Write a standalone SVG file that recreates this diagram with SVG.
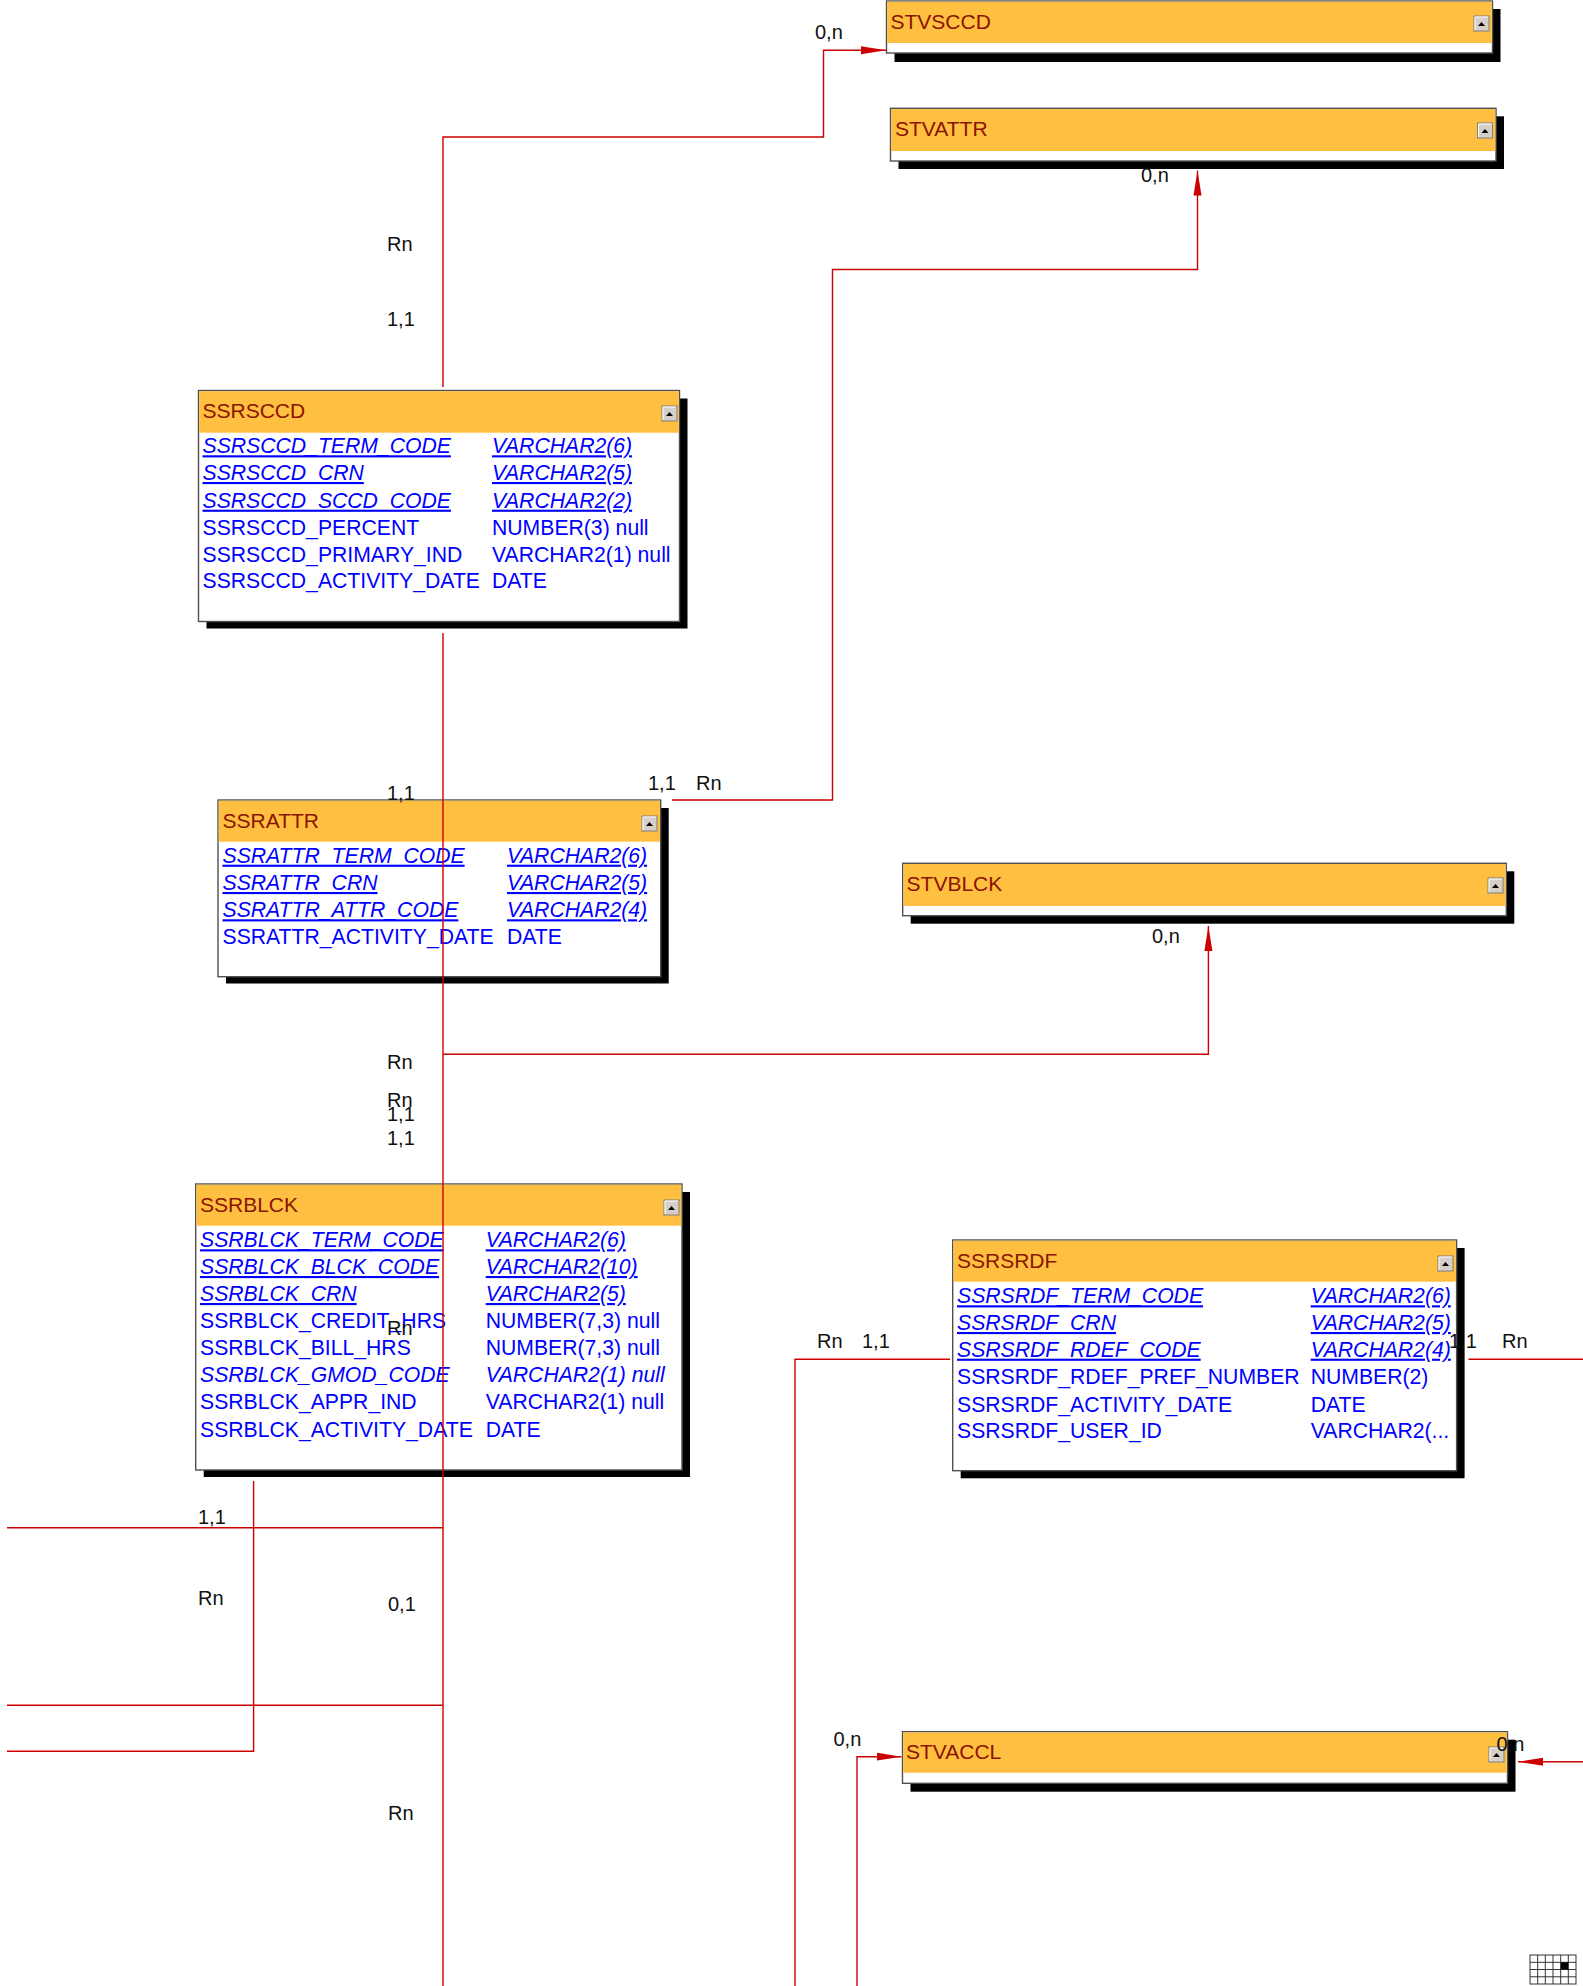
<svg xmlns="http://www.w3.org/2000/svg" width="1583" height="1986" viewBox="0 0 1583 1986">
<style>
text{font-family:"Liberation Sans",Arial,sans-serif}
.frame{fill:#fff;stroke:#505050;stroke-width:1.4}
.shadow{fill:#000}
.hdr{fill:#FFBF40}
.title{font-size:21px;fill:#8a1400}
.row{font-size:21.2px;fill:#0000ff}
.pk{font-style:italic;text-decoration:underline}
.fk{font-style:italic}
.icon{fill:#d4d0c8;stroke:#808080;stroke-width:1}
.iconhl{fill:none;stroke:#fff;stroke-width:1}
.tri{fill:#000}
.lbl{font-size:20px;fill:#111}
.conn{fill:none;stroke:#cc0000;stroke-width:1.4}
.grid{fill:#fff;stroke:#333;stroke-width:1}
</style>
<defs>
<marker id="arr" markerUnits="userSpaceOnUse" markerWidth="26" markerHeight="10" refX="25" refY="4.5" orient="auto">
<polygon points="0,0.5 25,4.5 0,8.5" fill="#cc0000"/>
</marker>
<g id="ico">
<rect class="icon" x="0" y="0" width="15" height="15"/>
<polyline class="iconhl" points="1,14 1,1 14,1"/>
<polygon class="tri" points="4,10 11,10 7.5,6"/>
</g>
</defs>
<rect width="1583" height="1986" fill="#fff"/>

<g id="node-STVSCCD">
<rect class="shadow" x="894.5" y="9" width="606" height="53"/>
<rect class="frame" x="886.5" y="1" width="606" height="52"/>
<rect class="hdr" x="887.2" y="1.7" width="604.6" height="41.3"/>
<text class="title" x="890.5" y="29">STVSCCD</text>
<use href="#ico" x="1474" y="16"/>
</g>

<g id="node-STVATTR">
<rect class="shadow" x="898.5" y="116.3" width="605.5" height="52.7"/>
<rect class="frame" x="890.5" y="108.3" width="605.5" height="52.7"/>
<rect class="hdr" x="891.2" y="109" width="604.1" height="42"/>
<text class="title" x="895" y="136">STVATTR</text>
<use href="#ico" x="1477.5" y="123"/>
</g>

<g id="node-SSRSCCD">
<rect class="shadow" x="206.5" y="398.5" width="481" height="230"/>
<rect class="frame" x="198.5" y="390.5" width="481" height="231"/>
<rect class="hdr" x="199.2" y="391.2" width="479.6" height="41.5"/>
<text class="title" x="202.5" y="418.3">SSRSCCD</text>
<use href="#ico" x="662" y="406"/>
<text class="row pk" x="202.5" y="453.3">SSRSCCD_TERM_CODE</text>
<text class="row pk" x="492" y="453.3">VARCHAR2(6)</text>
<text class="row pk" x="202.5" y="480">SSRSCCD_CRN</text>
<text class="row pk" x="492" y="480">VARCHAR2(5)</text>
<text class="row pk" x="202.5" y="507.7">SSRSCCD_SCCD_CODE</text>
<text class="row pk" x="492" y="507.7">VARCHAR2(2)</text>
<text class="row" x="202.5" y="535">SSRSCCD_PERCENT</text>
<text class="row" x="492" y="535">NUMBER(3) null</text>
<text class="row" x="202.5" y="561.7">SSRSCCD_PRIMARY_IND</text>
<text class="row" x="492" y="561.7">VARCHAR2(1) null</text>
<text class="row" x="202.5" y="588.3">SSRSCCD_ACTIVITY_DATE</text>
<text class="row" x="492" y="588.3">DATE</text>
</g>

<g id="node-SSRATTR">
<rect class="shadow" x="226" y="808" width="442.7" height="175.5"/>
<rect class="frame" x="218" y="800" width="442.7" height="176.7"/>
<rect class="hdr" x="218.7" y="800.7" width="441.3" height="41"/>
<text class="title" x="222.5" y="828.3">SSRATTR</text>
<use href="#ico" x="642" y="816"/>
<text class="row pk" x="222.5" y="862.7">SSRATTR_TERM_CODE</text>
<text class="row pk" x="507" y="862.7">VARCHAR2(6)</text>
<text class="row pk" x="222.5" y="890">SSRATTR_CRN</text>
<text class="row pk" x="507" y="890">VARCHAR2(5)</text>
<text class="row pk" x="222.5" y="917.3">SSRATTR_ATTR_CODE</text>
<text class="row pk" x="507" y="917.3">VARCHAR2(4)</text>
<text class="row" x="222.5" y="944">SSRATTR_ACTIVITY_DATE</text>
<text class="row" x="507" y="944">DATE</text>
</g>

<g id="node-STVBLCK">
<rect class="shadow" x="910.7" y="871.3" width="603.6" height="52.4"/>
<rect class="frame" x="902.7" y="863.3" width="603.6" height="52.4"/>
<rect class="hdr" x="903.4" y="864" width="602.2" height="42"/>
<text class="title" x="906.6" y="890.7">STVBLCK</text>
<use href="#ico" x="1488" y="878"/>
</g>

<g id="node-SSRBLCK">
<rect class="shadow" x="203.7" y="1192" width="486.3" height="285"/>
<rect class="frame" x="195.7" y="1184" width="486.3" height="286"/>
<rect class="hdr" x="196.4" y="1184.7" width="484.9" height="41"/>
<text class="title" x="200" y="1211.7">SSRBLCK</text>
<use href="#ico" x="664" y="1200"/>
<text class="row pk" x="200" y="1247.3">SSRBLCK_TERM_CODE</text>
<text class="row pk" x="485.7" y="1247.3">VARCHAR2(6)</text>
<text class="row pk" x="200" y="1274">SSRBLCK_BLCK_CODE</text>
<text class="row pk" x="485.7" y="1274">VARCHAR2(10)</text>
<text class="row pk" x="200" y="1301">SSRBLCK_CRN</text>
<text class="row pk" x="485.7" y="1301">VARCHAR2(5)</text>
<text class="row" x="200" y="1327.7">SSRBLCK_CREDIT_HRS</text>
<text class="row" x="485.7" y="1327.7">NUMBER(7,3) null</text>
<text class="row" x="200" y="1355.3">SSRBLCK_BILL_HRS</text>
<text class="row" x="485.7" y="1355.3">NUMBER(7,3) null</text>
<text class="row fk" x="200" y="1382.3">SSRBLCK_GMOD_CODE</text>
<text class="row fk" x="485.7" y="1382.3">VARCHAR2(1) null</text>
<text class="row" x="200" y="1409.3">SSRBLCK_APPR_IND</text>
<text class="row" x="485.7" y="1409.3">VARCHAR2(1) null</text>
<text class="row" x="200" y="1436.7">SSRBLCK_ACTIVITY_DATE</text>
<text class="row" x="485.7" y="1436.7">DATE</text>
</g>

<g id="node-SSRSRDF">
<rect class="shadow" x="960.7" y="1248" width="503.9" height="230.3"/>
<rect class="frame" x="952.7" y="1240" width="503.9" height="230.7"/>
<rect class="hdr" x="953.4" y="1240.7" width="502.5" height="41"/>
<text class="title" x="957" y="1267.7">SSRSRDF</text>
<use href="#ico" x="1438" y="1256"/>
<text class="row pk" x="957" y="1303.3">SSRSRDF_TERM_CODE</text>
<text class="row pk" x="1310.7" y="1303.3">VARCHAR2(6)</text>
<text class="row pk" x="957" y="1330">SSRSRDF_CRN</text>
<text class="row pk" x="1310.7" y="1330">VARCHAR2(5)</text>
<text class="row pk" x="957" y="1356.7">SSRSRDF_RDEF_CODE</text>
<text class="row pk" x="1310.7" y="1356.7">VARCHAR2(4)</text>
<text class="row" x="957" y="1384.3">SSRSRDF_RDEF_PREF_NUMBER</text>
<text class="row" x="1310.7" y="1384.3">NUMBER(2)</text>
<text class="row" x="957" y="1411.7">SSRSRDF_ACTIVITY_DATE</text>
<text class="row" x="1310.7" y="1411.7">DATE</text>
<text class="row" x="957" y="1438.3">SSRSRDF_USER_ID</text>
<text class="row" x="1310.7" y="1438.3">VARCHAR2(...</text>
</g>

<g id="node-STVACCL">
<rect class="shadow" x="910.5" y="1739.7" width="605" height="52"/>
<rect class="frame" x="902.5" y="1731.7" width="605" height="51.6"/>
<rect class="hdr" x="903.2" y="1732.4" width="603.6" height="40.3"/>
<text class="title" x="906" y="1759.3">STVACCL</text>
<use href="#ico" x="1489" y="1747"/>
</g>

<g id="connectors">
<path class="conn" d="M443,387 V137 H823.5 V50.3 H886" marker-end="url(#arr)"/>
<path class="conn" d="M672,800 H832.5 V269.5 H1197.5 V170.5" marker-end="url(#arr)"/>
<path class="conn" d="M443,633 V1986"/>
<path class="conn" d="M443,1054.3 H1208.4 V926" marker-end="url(#arr)"/>
<path class="conn" d="M253.6,1481 V1751.3 H7"/>
<path class="conn" d="M7,1527.7 H443"/>
<path class="conn" d="M7,1705.3 H443"/>
<path class="conn" d="M950,1359.3 H795 V1986"/>
<path class="conn" d="M1468.4,1359.3 H1583"/>
<path class="conn" d="M857,1986 V1756.7 H901.5" marker-end="url(#arr)"/>
<path class="conn" d="M1583,1761.7 H1518" marker-end="url(#arr)"/>
</g>

<g id="labels">
<text class="lbl" x="387" y="251">Rn</text>
<text class="lbl" x="387" y="326">1,1</text>
<text class="lbl" x="815" y="39">0,n</text>
<text class="lbl" x="1141" y="182">0,n</text>
<text class="lbl" x="387" y="800">1,1</text>
<text class="lbl" x="648" y="790">1,1</text>
<text class="lbl" x="696" y="790">Rn</text>
<text class="lbl" x="1152" y="943">0,n</text>
<text class="lbl" x="387" y="1069">Rn</text>
<text class="lbl" x="387" y="1107">Rn</text>
<text class="lbl" x="387" y="1121">1,1</text>
<text class="lbl" x="387" y="1145">1,1</text>
<text class="lbl" x="387" y="1335">Rn</text>
<text class="lbl" x="198" y="1524">1,1</text>
<text class="lbl" x="198" y="1605">Rn</text>
<text class="lbl" x="388" y="1611">0,1</text>
<text class="lbl" x="388" y="1820">Rn</text>
<text class="lbl" x="817" y="1348">Rn</text>
<text class="lbl" x="862" y="1348">1,1</text>
<text class="lbl" x="1449" y="1348">1,1</text>
<text class="lbl" x="1502" y="1348">Rn</text>
<text class="lbl" x="833.5" y="1746">0,n</text>
<text class="lbl" x="1496.5" y="1751">0,n</text>
</g>

<g id="minimap">
<rect class="grid" x="1530" y="1955" width="46" height="29"/>
<path fill="none" stroke="#333" stroke-width="1" d="M1537.7,1955 V1984 M1545.3,1955 V1984 M1553,1955 V1984 M1560.7,1955 V1984 M1568.3,1955 V1984 M1530,1962.3 H1576 M1530,1969.5 H1576 M1530,1976.8 H1576"/>
<rect x="1560.7" y="1962.3" width="7.6" height="7.2" fill="#000"/>
</g>
</svg>
